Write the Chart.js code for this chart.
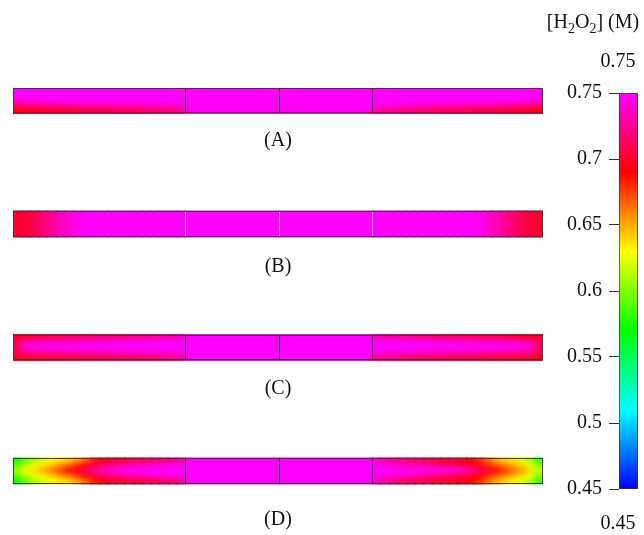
<!DOCTYPE html>
<html><head><meta charset="utf-8">
<script src="https://cdn.jsdelivr.net/npm/chart.js@4.4.0/dist/chart.umd.min.js"></script>
<style>
html,body{margin:0;padding:0;background:#fff;}
#wrap{position:relative;width:644px;height:535px;overflow:hidden;background:#fff;}
#heat{position:absolute;left:0;top:0;}
#cbar{position:absolute;left:540px;top:0;}
</style></head><body>
<div id="wrap"><canvas id="heat" width="560" height="535"></canvas><canvas id="cbar" width="104" height="535"></canvas></div>
<script>
// ---------- data ----------
const caseLabels = ['(A)', '(B)', '(C)', '(D)'];
// positions along each strip (arbitrary length units): end section, two middle sections, end section
const segmentEdges = [0, 172, 266, 359, 530];
const endCells = 20; // cells across each end section
// [H2O2] (M): rows top -> bottom; 20 left-end cells, 2 middle cells, 20 right-end cells
const stripA = [
  [0.75,0.75,0.75,0.75,0.75,0.75,0.75,0.75,0.75,0.75,0.75,0.75,0.75,0.75,0.75,0.75,0.75,0.75,0.75,0.75, 0.75,0.75, 0.75,0.75,0.75,0.75,0.75,0.75,0.75,0.75,0.75,0.75,0.75,0.75,0.75,0.75,0.75,0.75,0.75,0.75,0.75,0.75],
  [0.75,0.75,0.75,0.75,0.75,0.75,0.75,0.75,0.75,0.75,0.75,0.75,0.75,0.75,0.75,0.75,0.75,0.75,0.75,0.75, 0.75,0.75, 0.75,0.75,0.75,0.75,0.75,0.75,0.75,0.75,0.75,0.75,0.75,0.75,0.75,0.75,0.75,0.75,0.75,0.75,0.75,0.75],
  [0.744,0.746,0.748,0.75,0.75,0.75,0.75,0.75,0.75,0.75,0.75,0.75,0.75,0.75,0.75,0.75,0.75,0.75,0.75,0.75, 0.75,0.75, 0.75,0.75,0.75,0.75,0.75,0.75,0.75,0.75,0.75,0.75,0.75,0.75,0.75,0.75,0.75,0.75,0.75,0.748,0.746,0.744],
  [0.72,0.722,0.724,0.726,0.728,0.73,0.731,0.732,0.733,0.734,0.735,0.736,0.737,0.738,0.739,0.74,0.741,0.742,0.743,0.744, 0.75,0.75, 0.746,0.745,0.744,0.743,0.742,0.741,0.74,0.739,0.738,0.737,0.736,0.735,0.734,0.733,0.732,0.73,0.728,0.726,0.723,0.72],
  [0.692,0.694,0.696,0.698,0.70,0.701,0.702,0.703,0.704,0.705,0.706,0.707,0.708,0.709,0.71,0.712,0.714,0.716,0.718,0.72, 0.745,0.745, 0.726,0.724,0.722,0.72,0.718,0.716,0.714,0.712,0.71,0.709,0.708,0.707,0.706,0.705,0.704,0.703,0.702,0.70,0.697,0.694]
];
const rowB = [0.70,0.703,0.708,0.716,0.725,0.733,0.74,0.745,0.748,0.75,0.75,0.75,0.75,0.75,0.75,0.75,0.75,0.75,0.75,0.75, 0.75,0.75, 0.75,0.75,0.75,0.75,0.75,0.75,0.75,0.75,0.75,0.75,0.75,0.749,0.746,0.74,0.733,0.725,0.717,0.71,0.704,0.70];
const stripB = [rowB, rowB, rowB, rowB, rowB];
const stripC = [
  [0.695,0.70,0.702,0.704,0.706,0.708,0.71,0.711,0.712,0.713,0.714,0.715,0.716,0.718,0.72,0.722,0.724,0.726,0.728,0.73, 0.75,0.75, 0.73,0.728,0.726,0.724,0.722,0.72,0.718,0.716,0.714,0.712,0.711,0.71,0.709,0.708,0.706,0.704,0.702,0.70,0.698,0.695],
  [0.715,0.728,0.732,0.734,0.736,0.737,0.738,0.739,0.74,0.741,0.742,0.743,0.744,0.745,0.746,0.747,0.748,0.748,0.749,0.749, 0.75,0.75, 0.749,0.749,0.748,0.748,0.747,0.746,0.745,0.744,0.743,0.742,0.741,0.74,0.739,0.738,0.737,0.736,0.734,0.732,0.728,0.715],
  [0.71,0.745,0.75,0.75,0.75,0.75,0.75,0.75,0.75,0.75,0.75,0.75,0.75,0.75,0.75,0.75,0.75,0.75,0.75,0.75, 0.75,0.75, 0.75,0.75,0.75,0.75,0.75,0.75,0.75,0.75,0.75,0.75,0.75,0.75,0.75,0.75,0.75,0.75,0.75,0.75,0.745,0.71],
  [0.712,0.725,0.728,0.73,0.732,0.733,0.734,0.735,0.736,0.737,0.738,0.739,0.74,0.741,0.742,0.743,0.744,0.745,0.746,0.747, 0.75,0.75, 0.747,0.746,0.745,0.744,0.743,0.742,0.741,0.74,0.739,0.738,0.737,0.736,0.735,0.734,0.733,0.732,0.73,0.728,0.725,0.712],
  [0.693,0.697,0.699,0.70,0.701,0.702,0.703,0.704,0.705,0.706,0.707,0.708,0.709,0.71,0.712,0.714,0.716,0.718,0.72,0.722, 0.75,0.75, 0.722,0.72,0.718,0.716,0.714,0.712,0.71,0.709,0.708,0.707,0.706,0.705,0.704,0.703,0.702,0.701,0.70,0.699,0.697,0.693]
];
const stripD = [
  [0.575,0.595,0.61,0.62,0.628,0.634,0.64,0.65,0.665,0.683,0.693,0.698,0.70,0.70,0.702,0.705,0.708,0.712,0.716,0.722, 0.75,0.75, 0.735,0.728,0.722,0.716,0.712,0.708,0.705,0.702,0.70,0.698,0.695,0.69,0.68,0.665,0.65,0.64,0.633,0.624,0.61,0.585],
  [0.59,0.61,0.625,0.635,0.645,0.655,0.665,0.68,0.695,0.705,0.713,0.72,0.726,0.731,0.735,0.738,0.741,0.744,0.746,0.748, 0.75,0.75, 0.748,0.745,0.742,0.739,0.735,0.73,0.726,0.721,0.716,0.711,0.706,0.70,0.693,0.683,0.67,0.66,0.65,0.64,0.625,0.60],
  [0.612,0.63,0.64,0.648,0.66,0.675,0.69,0.70,0.715,0.728,0.738,0.745,0.748,0.75,0.75,0.75,0.75,0.75,0.75,0.75, 0.75,0.75, 0.75,0.75,0.75,0.75,0.75,0.75,0.75,0.75,0.75,0.75,0.745,0.735,0.72,0.705,0.695,0.68,0.665,0.655,0.64,0.62],
  [0.59,0.61,0.624,0.634,0.644,0.654,0.665,0.68,0.694,0.705,0.713,0.72,0.726,0.731,0.735,0.738,0.741,0.744,0.746,0.748, 0.75,0.75, 0.748,0.745,0.742,0.739,0.735,0.73,0.726,0.721,0.716,0.711,0.706,0.70,0.693,0.683,0.67,0.66,0.65,0.64,0.625,0.60],
  [0.575,0.594,0.61,0.62,0.628,0.634,0.64,0.65,0.665,0.683,0.693,0.698,0.70,0.70,0.702,0.705,0.708,0.712,0.716,0.722, 0.75,0.75, 0.735,0.728,0.722,0.716,0.712,0.708,0.705,0.702,0.70,0.698,0.695,0.69,0.68,0.665,0.65,0.64,0.633,0.624,0.61,0.585]
];
const colorbarRange = [0.45, 0.75];
const colorbarTicks = [0.45, 0.5, 0.55, 0.6, 0.65, 0.7, 0.75];
const colorbarTickLabels = ['0.45', '0.5', '0.55', '0.6', '0.65', '0.7', '0.75'];
const colorbarTitle = ['[H', '2', 'O', '2', '] (M)'];

// ---------- colour map ----------
const cmapStops = [[0.45,[0,0,255]],[0.51,[0,255,255]],[0.57,[0,255,0]],[0.63,[255,255,0]],[0.69,[255,0,0]],[0.75,[255,0,255]]];
function rgb(c){ return 'rgb(' + c.map(Math.round).join(',') + ')'; }
function colorFor(v){
  if (v <= cmapStops[0][0]) return rgb(cmapStops[0][1]);
  for (let k = 1; k < cmapStops.length; k++){
    const [v1,c1] = cmapStops[k], [v0,c0] = cmapStops[k-1];
    if (v <= v1){ const t = (v - v0)/(v1 - v0); return rgb(c0.map((a,j)=>a + (c1[j]-a)*t)); }
  }
  return rgb(cmapStops[cmapStops.length-1][1]);
}

// ---------- build heat-map cells ----------
const stripHalf = 0.105;
const cellEdges = [];
function subdivide(a, b, n){ for (let k = 0; k < n; k++) cellEdges.push([a + (b-a)*k/n, a + (b-a)*(k+1)/n]); }
subdivide(segmentEdges[0], segmentEdges[1], endCells);
cellEdges.push([segmentEdges[1], segmentEdges[2]]);
cellEdges.push([segmentEdges[2], segmentEdges[3]]);
subdivide(segmentEdges[3], segmentEdges[4], endCells);

const grids = [stripA, stripB, stripC, stripD];
const cells = [];
grids.forEach((g, i) => g.forEach((row, r) => row.forEach((v, c) => {
  const [x0, x1] = cellEdges[c];
  cells.push({ x: [x0, x1 + 0.8], y: i - stripHalf + (r + 0.5) * 2 * stripHalf / g.length, v });
})));

const labelGap = [28, 30, 29, 36];
const dividerColors = ['#3a3040', 'rgba(250,190,250,0.9)', '#3a3040', '#3a3040'];
const FONT = '"Liberation Serif", "DejaVu Serif", serif';

function stripBox(chart, i){
  const xs = chart.scales.x, ys = chart.scales.y;
  return {
    top: Math.round(ys.getPixelForValue(i - stripHalf)),
    bot: Math.round(ys.getPixelForValue(i + stripHalf)),
    left: Math.round(xs.getPixelForValue(segmentEdges[0])),
    right: Math.round(xs.getPixelForValue(segmentEdges[segmentEdges.length-1]))
  };
}

const stripPlugin = {
  id: 'strips',
  afterDatasetsDraw(chart){
    const {ctx} = chart, xs = chart.scales.x;
    // soften the cell grid into a continuous field (smoothing only inside each strip)
    const tmp = document.createElement('canvas');
    tmp.width = chart.canvas.width; tmp.height = chart.canvas.height;
    tmp.getContext('2d').drawImage(chart.canvas, 0, 0);
    ctx.save();
    ctx.setTransform(1,0,0,1,0,0);
    ctx.beginPath();
    grids.forEach((g, i) => { const b = stripBox(chart, i); ctx.rect(b.left, b.top, b.right - b.left, b.bot - b.top); });
    ctx.clip();
    ctx.filter = 'blur(2.5px)';
    ctx.drawImage(tmp, 0, 0);
    ctx.restore();

    ctx.save();
    grids.forEach((g, i) => {
      const b = stripBox(chart, i);
      const top = b.top + 0.5, bot = b.bot - 0.5, left = b.left + 0.5, right = b.right - 0.5;
      ctx.lineWidth = 1;
      ctx.strokeStyle = dividerColors[i];
      segmentEdges.slice(1, -1).forEach(e => {
        const x = Math.round(xs.getPixelForValue(e)) + 0.5;
        ctx.beginPath(); ctx.moveTo(x, top); ctx.lineTo(x, bot); ctx.stroke();
      });
      ctx.strokeStyle = '#40383f';
      ctx.strokeRect(left, top, right - left, bot - top);
      ctx.fillStyle = '#111';
      ctx.font = '20px ' + FONT;
      ctx.textAlign = 'center'; ctx.textBaseline = 'middle';
      ctx.fillText(caseLabels[i], xs.getPixelForValue((segmentEdges[0] + segmentEdges[4]) / 2), bot + labelGap[i]);
    });
    ctx.restore();
  }
};

new Chart(document.getElementById('heat'), {
  type: 'bar',
  data: { datasets: [{
    data: cells,
    backgroundColor: c => c.raw ? colorFor(c.raw.v) : '#f0f',
    borderWidth: 0,
    barThickness: 5.8
  }]},
  options: {
    indexAxis: 'y', responsive: false, animation: false, events: [],
    layout: { padding: { left: 13, right: 17, top: 88, bottom: 50 } },
    scales: {
      x: { type: 'linear', min: segmentEdges[0], max: segmentEdges[4], display: false, offset: false },
      y: { type: 'linear', min: -0.1012, max: 3.1134, reverse: true, display: false, offset: false }
    },
    plugins: { legend: { display: false }, tooltip: { enabled: false } }
  },
  plugins: [stripPlugin]
});

// ---------- colour bar ----------
const cbarText = {
  id: 'cbarText',
  afterDraw(chart){
    const {ctx} = chart;
    ctx.save();
    ctx.fillStyle = '#111';
    ctx.textBaseline = 'alphabetic';
    const parts = colorbarTitle.map((t, k) => ({ t, sub: k % 2 === 1 }));
    let w = 0;
    parts.forEach(p => { ctx.font = (p.sub ? '14px ' : '20px ') + FONT; p.w = ctx.measureText(p.t).width; w += p.w; });
    let x = 53 - w / 2;
    ctx.textAlign = 'left';
    parts.forEach(p => { ctx.font = (p.sub ? '14px ' : '20px ') + FONT; ctx.fillText(p.t, x, p.sub ? 33 : 28); x += p.w; });
    ctx.font = '20px ' + FONT;
    ctx.textAlign = 'center'; ctx.textBaseline = 'middle';
    ctx.fillText(colorbarTickLabels[colorbarTickLabels.length-1], 78, 62);
    ctx.fillText(colorbarTickLabels[0], 78, 524);
    ctx.restore();
  }
};

new Chart(document.getElementById('cbar'), {
  type: 'bar',
  data: { labels: ['[H2O2]'], datasets: [{
    data: [colorbarRange],
    backgroundColor: c => {
      const ch = c.chart; if (!ch.chartArea) return '#f0f';
      const ys = ch.scales.y;
      const g = ch.ctx.createLinearGradient(0, ys.getPixelForValue(colorbarRange[0]), 0, ys.getPixelForValue(colorbarRange[1]));
      cmapStops.forEach(([v, col]) => g.addColorStop((v - colorbarRange[0]) / (colorbarRange[1] - colorbarRange[0]), rgb(col)));
      return g;
    },
    borderColor: '#3a3040', borderWidth: 1, borderSkipped: false,
    barPercentage: 1, categoryPercentage: 1
  }]},
  options: {
    responsive: false, animation: false, events: [],
    layout: { padding: { left: 0, right: 6, top: 93, bottom: 46 } },
    scales: {
      x: { display: false },
      y: {
        position: 'left', min: colorbarRange[0], max: colorbarRange[1],
        afterFit: s => { s.width = 79; },
        afterBuildTicks: s => { s.ticks = colorbarTicks.map(v => ({ value: v })); },
        ticks: { callback: (v, i) => colorbarTickLabels[i], font: { family: FONT, size: 20 }, color: '#111', padding: 7, autoSkip: false },
        grid: { display: true, drawOnChartArea: false, drawTicks: true, tickLength: 10, color: '#333', lineWidth: 1 },
        border: { display: false }
      }
    },
    plugins: { legend: { display: false }, tooltip: { enabled: false } }
  },
  plugins: [cbarText]
});
</script>
</body></html>
